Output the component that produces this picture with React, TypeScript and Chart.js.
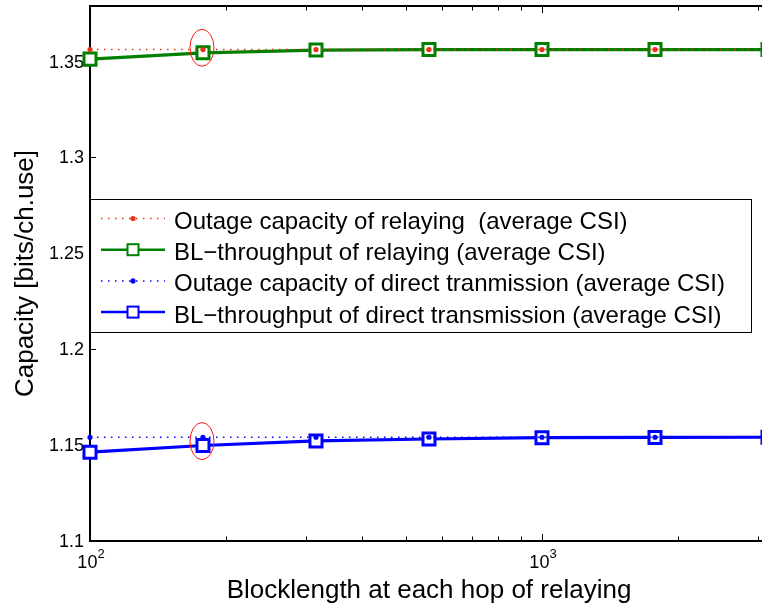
import { useEffect, useRef } from 'react';
import { Chart, registerables } from 'chart.js';

Chart.register(...registerables);

// Blocklength per hop (quarter-decade steps)
const blocklengths = [100, 177.8, 316.2, 562.3, 1000, 1778.3, 3162.3];

// Capacity values [bits/ch.use]
const outageRelaying = [1.3563, 1.3563, 1.3563, 1.3563, 1.3563, 1.3563, 1.3563];
const throughputRelaying = [1.3513, 1.3546, 1.356, 1.3563, 1.3563, 1.3563, 1.3563];
const outageDirect = [1.1541, 1.1541, 1.1541, 1.1541, 1.1541, 1.1541, 1.1541];
const throughputDirect = [1.1463, 1.1498, 1.1522, 1.1532, 1.1539, 1.154, 1.1541];

const seriesLabels = [
  'Outage capacity of relaying  (average CSI)',
  'BL\u2212throughput of relaying (average CSI)',
  'Outage capacity of direct tranmission (average CSI)',
  'BL\u2212throughput of direct transmission (average CSI)',
];

// Axis ticks
const yTicks = [1.1, 1.15, 1.2, 1.25, 1.3, 1.35];
const yTickLabels = ['1.1', '1.15', '1.2', '1.25', '1.3', '1.35'];
const xMajorTicks = [100, 1000];
const xMajorExponents = ['2', '3'];
const xMinorTicks = [200, 300, 400, 500, 600, 700, 800, 900, 2000, 3000];

// Circled points (blocklength, capacity)
const highlightX = [177.8, 177.8];
const highlightY = [1.3572, 1.1521];

const xTitle = 'Blocklength at each hop of relaying';
const yTitle = 'Capacity [bits/ch.use]';

const RED = 'rgb(232, 52, 22)';
const GREEN = 'rgb(0, 128, 0)';
const BLUE = 'rgb(0, 0, 255)';
const FONT = '"Liberation Sans", Arial, Helvetica, sans-serif';

const pts = (ys: number[]) => blocklengths.map((x, i) => ({ x, y: ys[i] }));

const line = (ctx: CanvasRenderingContext2D, x1: number, y1: number, x2: number, y2: number) => {
  ctx.beginPath();
  ctx.moveTo(x1, y1);
  ctx.lineTo(x2, y2);
  ctx.stroke();
};

const axesFrame = {
  id: 'axesFrame',
  beforeDatasetsDraw(chart: any) {
    const { ctx, chartArea: a, scales } = chart;
    const x = scales.x;
    const y = scales.y;
    ctx.save();
    ctx.strokeStyle = '#000';
    ctx.lineWidth = 1;
    yTicks.forEach((v) => {
      const py = Math.round(y.getPixelForValue(v)) + 0.5;
      line(ctx, a.left, py, a.left + 6, py);
      line(ctx, a.right, py, a.right - 6, py);
    });
    xMajorTicks.forEach((v) => {
      const px = Math.round(x.getPixelForValue(v)) + 0.5;
      line(ctx, px, a.bottom, px, a.bottom - 7);
      line(ctx, px, a.top, px, a.top + 7);
    });
    xMinorTicks.forEach((v) => {
      const px = Math.round(x.getPixelForValue(v)) + 0.5;
      line(ctx, px, a.bottom, px, a.bottom - 4.5);
      line(ctx, px, a.top, px, a.top + 4.5);
    });
    ctx.lineWidth = 2;
    ctx.strokeRect(a.left, a.top, a.right - a.left, a.bottom - a.top);

    // tick labels
    ctx.fillStyle = '#000';
    ctx.font = `18px ${FONT}`;
    ctx.textAlign = 'right';
    ctx.textBaseline = 'middle';
    yTicks.forEach((v, i) => {
      ctx.fillText(yTickLabels[i], a.left - 6, y.getPixelForValue(v) + 1);
    });
    ctx.textBaseline = 'alphabetic';
    ctx.textAlign = 'left';
    xMajorTicks.forEach((v, i) => {
      const px = x.getPixelForValue(v);
      ctx.font = `18px ${FONT}`;
      const wBase = ctx.measureText('10').width;
      ctx.font = `13px ${FONT}`;
      const wExp = ctx.measureText(xMajorExponents[i]).width;
      const start = px + 1 - (wBase + wExp) / 2;
      ctx.font = `18px ${FONT}`;
      ctx.fillText('10', start, a.bottom + 27);
      ctx.font = `13px ${FONT}`;
      ctx.fillText(xMajorExponents[i], start + wBase, a.bottom + 17);
    });

    // axis titles
    ctx.font = `26px ${FONT}`;
    ctx.textAlign = 'center';
    ctx.fillText(xTitle, (a.left + a.right) / 2, a.bottom + 57);
    ctx.save();
    ctx.translate(33, (a.top + a.bottom) / 2);
    ctx.rotate(-Math.PI / 2);
    ctx.fillText(yTitle, 0, 0);
    ctx.restore();
    ctx.restore();
  },
};

const overlay = {
  id: 'overlay',
  afterDatasetsDraw(chart: any) {
    const { ctx, chartArea: a, scales } = chart;
    const x = scales.x;
    const y = scales.y;
    ctx.save();

    // circled points
    ctx.strokeStyle = 'rgb(255, 20, 20)';
    ctx.lineWidth = 1;
    highlightX.forEach((v, i) => {
      ctx.beginPath();
      ctx.ellipse(x.getPixelForValue(v) - 1, y.getPixelForValue(highlightY[i]), 12, 18.5, 0, 0, Math.PI * 2);
      ctx.stroke();
    });

    // legend
    const boxL = a.left;
    const boxT = 199;
    const boxW = 661;
    const boxH = 133;
    ctx.fillStyle = '#fff';
    ctx.fillRect(boxL, boxT, boxW, boxH);
    ctx.strokeStyle = '#000';
    ctx.lineWidth = 1;
    ctx.strokeRect(boxL + 0.5, boxT + 0.5, boxW, boxH);

    const order = [0, 2, 1, 3];
    order.forEach((dsIndex, row) => {
      const ds = chart.data.datasets[dsIndex];
      const cy = boxT + 19.5 + row * 31.2;
      const x1 = boxL + 11;
      const x2 = boxL + 75;
      const mx = (x1 + x2) / 2;
      ctx.save();
      ctx.strokeStyle = ds.borderColor;
      if (ds.pointStyle === 'rect') {
        ctx.lineWidth = 2.5;
        line(ctx, x1, cy, x2, cy);
        ctx.fillStyle = '#fff';
        ctx.lineWidth = 2;
        ctx.fillRect(mx - 5.5, cy - 5.5, 11, 11);
        ctx.strokeRect(mx - 5.5, cy - 5.5, 11, 11);
      } else {
        ctx.lineWidth = 1.5;
        ctx.setLineDash(ds.borderDash);
        line(ctx, x1, cy, x2, cy);
        ctx.setLineDash([]);
        ctx.fillStyle = ds.borderColor;
        ctx.beginPath();
        ctx.arc(mx, cy, 2.6, 0, Math.PI * 2);
        ctx.fill();
      }
      ctx.restore();
      ctx.fillStyle = '#000';
      ctx.font = `24px ${FONT}`;
      ctx.textAlign = 'left';
      ctx.textBaseline = 'alphabetic';
      ctx.fillText(ds.label, boxL + 84, cy + 10.5);
    });
    ctx.restore();
  },
};

export default function App() {
  const canvasRef = useRef<HTMLCanvasElement | null>(null);

  useEffect(() => {
    const canvas = canvasRef.current;
    if (!canvas) return;
    const dotted = {
      borderWidth: 1.5,
      borderDash: [1.5, 5.5],
      pointStyle: 'circle',
      pointRadius: 2.6,
      pointBorderWidth: 0,
      clip: false,
    };
    const solid = {
      borderWidth: 3.2,
      pointStyle: 'rect',
      pointRadius: 8.5,
      pointBorderWidth: 3,
      pointBackgroundColor: '#fff',
      clip: false,
    };
    const chart = new Chart(canvas, {
      type: 'line',
      data: {
        datasets: [
          { ...dotted, label: seriesLabels[0], data: pts(outageRelaying), borderColor: RED, pointBackgroundColor: RED },
          { ...dotted, label: seriesLabels[2], data: pts(outageDirect), borderColor: BLUE, pointBackgroundColor: BLUE },
          { ...solid, label: seriesLabels[1], data: pts(throughputRelaying), borderColor: GREEN, pointBorderColor: GREEN },
          { ...solid, label: seriesLabels[3], data: pts(throughputDirect), borderColor: BLUE, pointBorderColor: BLUE },
        ] as any,
      },
      options: {
        responsive: false,
        animation: false,
        devicePixelRatio: 1,
        layout: { autoPadding: false, padding: { left: 90, top: 6, right: 32, bottom: 64 } },
        elements: { line: { tension: 0 } },
        scales: {
          x: { type: 'logarithmic', min: 100, max: 3162.3, display: false },
          y: { type: 'linear', min: 1.1, max: 1.379, display: false },
        },
        plugins: { legend: { display: false }, tooltip: { enabled: false } },
      },
      plugins: [axesFrame, overlay],
    });
    return () => chart.destroy();
  }, []);

  return (
    <div
      style={{
        position: 'fixed',
        left: 0,
        top: 0,
        width: 762,
        height: 605,
        overflow: 'hidden',
        background: '#fff',
      }}
    >
      <canvas ref={canvasRef} width={800} height={605} style={{ display: 'block', width: 800, height: 605 }} />
    </div>
  );
}
